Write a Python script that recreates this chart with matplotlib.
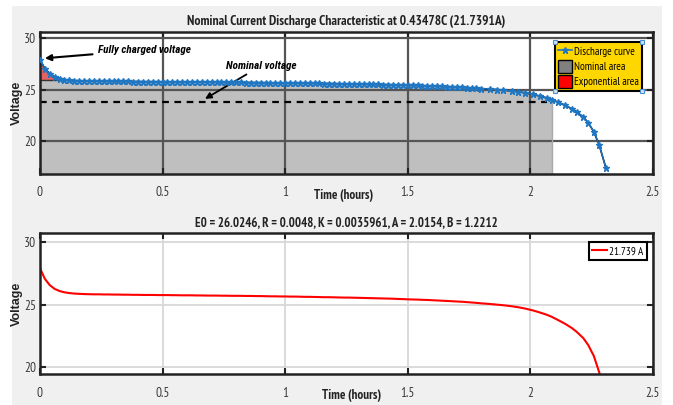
import numpy as np
import matplotlib
matplotlib.use("Agg")
import matplotlib.pyplot as plt
from matplotlib.patches import Rectangle, Patch
from matplotlib.lines import Line2D

plt.rcParams['font.family'] = ['PT Sans Narrow', 'Roboto Condensed', 'DejaVu Sans']

# discharge curve (time in hours, voltage in V)
time_h = [0.00, 0.02, 0.04, 0.06, 0.08, 0.10, 0.12, 0.14, 0.16, 0.18,
          0.20, 0.22, 0.24, 0.26, 0.28, 0.30, 0.32, 0.34, 0.36, 0.38,
          0.40, 0.42, 0.44, 0.46, 0.48, 0.50, 0.52, 0.54, 0.56, 0.58,
          0.60, 0.62, 0.64, 0.66, 0.68, 0.70, 0.72, 0.74, 0.76, 0.78,
          0.80, 0.82, 0.84, 0.86, 0.88, 0.90, 0.92, 0.94, 0.96, 0.98,
          1.00, 1.02, 1.04, 1.06, 1.08, 1.10, 1.12, 1.14, 1.16, 1.18,
          1.20, 1.22, 1.24, 1.26, 1.28, 1.30, 1.32, 1.34, 1.36, 1.38,
          1.40, 1.42, 1.44, 1.46, 1.48, 1.50, 1.52, 1.54, 1.56, 1.58,
          1.60, 1.62, 1.64, 1.66, 1.68, 1.70, 1.72, 1.74, 1.76, 1.78,
          1.80, 1.835, 1.862, 1.890, 1.924, 1.951, 1.978, 2.012, 2.039, 2.066,
          2.087, 2.114, 2.141, 2.168, 2.189, 2.216, 2.236, 2.259, 2.281, 2.308]
voltage = [27.90, 27.05, 26.55, 26.25, 26.08, 25.98, 25.92, 25.88, 25.86, 25.84,
           25.83, 25.82, 25.82, 25.81, 25.81, 25.80, 25.80, 25.79, 25.79, 25.78,
           25.78, 25.77, 25.77, 25.77, 25.76, 25.76, 25.76, 25.75, 25.75, 25.74,
           25.74, 25.74, 25.73, 25.73, 25.72, 25.72, 25.72, 25.71, 25.71, 25.70,
           25.70, 25.70, 25.69, 25.69, 25.68, 25.68, 25.67, 25.66, 25.66, 25.65,
           25.65, 25.64, 25.64, 25.63, 25.62, 25.62, 25.61, 25.60, 25.59, 25.59,
           25.58, 25.57, 25.56, 25.56, 25.55, 25.54, 25.53, 25.52, 25.51, 25.50,
           25.49, 25.48, 25.47, 25.45, 25.44, 25.42, 25.41, 25.40, 25.38, 25.37,
           25.35, 25.33, 25.31, 25.29, 25.27, 25.25, 25.23, 25.20, 25.17, 25.14,
           25.10, 25.05, 25.00, 24.95, 24.87, 24.79, 24.69, 24.53, 24.37, 24.20,
           24.03, 23.76, 23.48, 23.15, 22.83, 22.33, 21.78, 20.90, 19.60, 17.40]

exp_voltage = 25.95      # top of exponential zone
exp_time = 0.10
nominal_voltage = 23.83
nominal_time = 2.087

top_title = 'Nominal Current Discharge Characteristic at 0.43478C (21.7391A)'
bottom_title = 'E0 = 26.0246, R = 0.0048, K = 0.0035961, A = 2.0154, B = 1.2212'
current_label = '21.739 A'
xticks = [0, 0.5, 1, 1.5, 2, 2.5]
xtick_labels = ['0', '0.5', '1', '1.5', '2', '2.5']

t = np.array(time_h)
v = np.array(voltage)

fig = plt.figure(figsize=(6.73, 4.05), dpi=100, facecolor='white')
fig.patches.append(Rectangle((12 / 673, 0), 650 / 673, 399 / 405, transform=fig.transFigure,
                             facecolor='#f0f0f0', edgecolor='none', zorder=-10))

ax1 = fig.add_axes([0.0594, 0.5704, 0.9108, 0.3506])
ax2 = fig.add_axes([0.0594, 0.0765, 0.9108, 0.348])


def style_axes(ax, grid_color, grid_lw, xlabel_x):
    ax.set_xlim(0, 2.5)
    ax.set_xticks(xticks)
    ax.set_xticklabels(xtick_labels)
    ax.set_yticks([20, 25, 30])
    ax.tick_params(direction='in', top=True, right=True, length=4, width=1.5,
                   labelsize=9.5, labelcolor='#3a3a3a', color='#222222')
    ax.tick_params(axis='x', pad=9)
    ax.tick_params(axis='y', pad=3)
    for s in ax.spines.values():
        s.set_linewidth(1.8)
        s.set_color('#222222')
    ax.grid(True, color=grid_color, linewidth=grid_lw)
    ax.set_axisbelow('line')
    ax.set_xlabel('Time (hours)', fontsize=9.5, fontweight='bold', color='#222222')
    ax.xaxis.set_label_coords(xlabel_x, -0.15)
    ax.xaxis.label.set_va('center')
    ax.set_ylabel('Voltage', fontsize=9, fontweight='bold', color='#222222',
                  family=['Liberation Sans', 'DejaVu Sans'])
    ax.yaxis.set_label_coords(-0.028, 0.5)


# ---- top: nominal discharge characteristic ----
style_axes(ax1, '#555555', 1.6, 0.495)
ax1.set_ylim(16.8, 30.6)

nom = t <= nominal_time
ax1.fill_between(t[nom], 16.8, np.minimum(v[nom], exp_voltage), color='#bfbfbf', linewidth=0)
ex = t <= exp_time
ax1.fill_between(t[ex], exp_voltage, v[ex], color='#e06262', linewidth=0)
ax1.plot([0, exp_time], [exp_voltage, exp_voltage], color='#333333', lw=1.0)
ax1.plot([nominal_time, nominal_time], [16.8, v[nom][-1]], color='#aaaaaa', lw=1.0)
ax1.plot([0, nominal_time - 0.02], [nominal_voltage, nominal_voltage], color='black', lw=1.6,
         linestyle=(0, (3, 2.5)))
ax1.plot(t, v, color='black', lw=1.2, zorder=3)
ax1.plot(t, v, color='#1f77c4', lw=1.0, marker='*', markersize=4.5, zorder=4)

ann_font = ['Roboto Condensed', 'DejaVu Sans']
ax1.annotate('Fully charged voltage', xy=(0.02, 28.05), xytext=(0.237, 28.85),
             fontsize=8, fontweight='bold', style='italic', va='center', ha='left',
             family=ann_font,
             arrowprops=dict(arrowstyle='-|>', color='black', lw=1.5, mutation_scale=9,
                             shrinkA=2, shrinkB=0))
ax1.annotate('Nominal voltage', xy=(0.673, 24.1), xytext=(0.757, 27.3),
             fontsize=8, fontweight='bold', style='italic', va='center', ha='left',
             family=ann_font,
             arrowprops=dict(arrowstyle='-|>', color='black', lw=1.3, mutation_scale=9,
                             shrinkA=1, shrinkB=0))

title1 = ax1.set_title(top_title, fontsize=9.5, fontweight='bold', color='#222222', pad=5)

handles1 = [Line2D([], [], color='#1f77c4', lw=1.2, marker='*', markersize=5),
            Patch(facecolor='#808080', edgecolor='black'),
            Patch(facecolor='red', edgecolor='black')]
leg1 = ax1.legend(handles1, ['Discharge curve', 'Nominal area', 'Exponential area'],
                  loc='upper right', bbox_to_anchor=(0.982, 0.932), fontsize=8.5,
                  fancybox=False, framealpha=1, facecolor='#ffd700', edgecolor='black',
                  borderaxespad=0, borderpad=0.25, handlelength=1.2, handleheight=1.4,
                  handletextpad=0.2, labelspacing=0.12)
leg1.get_frame().set_linewidth(1.5)

# ---- bottom: discharge at given current ----
style_axes(ax2, '#d8d8d8', 1.3, 0.508)
ax2.set_ylim(19.47, 30.7)
ax2.plot(t, v, color='red', lw=1.5, label=current_label)
title2 = ax2.set_title(bottom_title, fontsize=9.5, fontweight='bold', color='#222222', pad=5)
leg2 = ax2.legend(loc='upper right', bbox_to_anchor=(0.990, 0.934), fontsize=8.5,
                  fancybox=False, framealpha=1, edgecolor='black', borderaxespad=0,
                  borderpad=0.3, handlelength=1.2, handletextpad=0.2)
leg2.get_frame().set_linewidth(1.5)

# scale fonts so text widths match the reference (in pixels)
fig.canvas.draw()
renderer = fig.canvas.get_renderer()


def fit(txt, target_px):
    w = txt.get_window_extent(renderer).width
    txt.set_fontsize(txt.get_fontsize() * target_px / w)


fit(title1, 320)
fit(title2, 307)
fit(ax1.xaxis.label, 60)
fit(ax2.xaxis.label, 60)
w0 = leg1.get_texts()[0].get_window_extent(renderer).width
for txt in leg1.get_texts():
    txt.set_fontsize(txt.get_fontsize() * 60 / w0)
fit(leg2.get_texts()[0], 34)

# small selection handles at the corners of the top legend
fig.canvas.draw()
bb = leg1.get_window_extent(renderer).transformed(fig.transFigure.inverted())
fig.add_artist(Line2D([bb.x0, bb.x1, bb.x0, bb.x1], [bb.y0, bb.y0, bb.y1, bb.y1],
                      transform=fig.transFigure, linestyle='none', marker='s', markersize=3.5,
                      markerfacecolor='#cfe3f7', markeredgecolor='#4a8fd0', markeredgewidth=0.8))

fig.savefig('out.png', dpi=100, facecolor=fig.get_facecolor())
